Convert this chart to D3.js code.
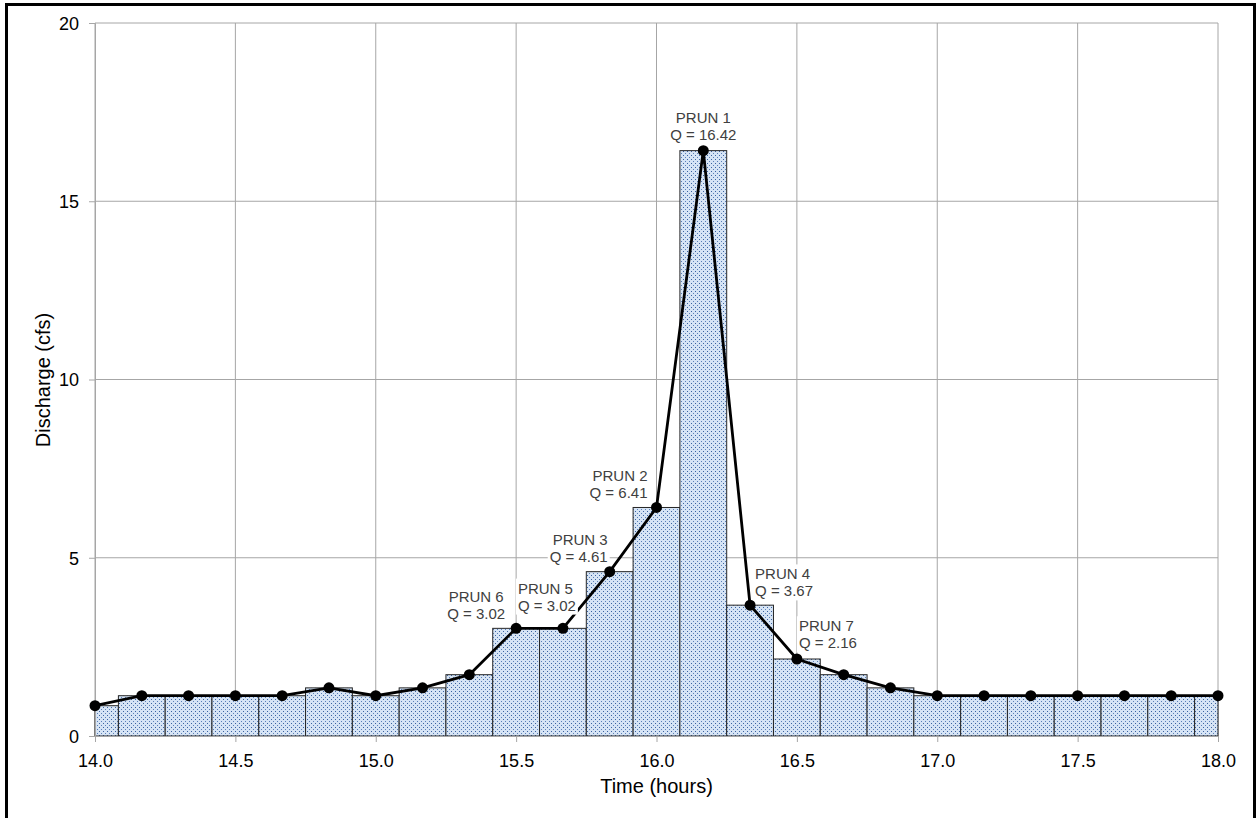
<!DOCTYPE html>
<html>
<head>
<meta charset="utf-8">
<script src="https://cdn.jsdelivr.net/npm/d3@7"></script>
<style>
  body { margin: 0; background: #fff; }
  svg { display: block; font-family: Arial, "Liberation Sans", sans-serif; }
</style>
</head>
<body>
<div class="graph"></div>
<script>
/*---------- DATA ----------*/

//time of each routed step (hours) and discharge (cfs)
const times = [14.0, 14.1667, 14.3333, 14.5, 14.6667, 14.8333, 15.0, 15.1667, 15.3333,
               15.5, 15.6667, 15.8333, 16.0, 16.1667, 16.3333, 16.5, 16.6667, 16.8333,
               17.0, 17.1667, 17.3333, 17.5, 17.6667, 17.8333, 18.0];
const discharge = [0.85, 1.13, 1.13, 1.13, 1.13, 1.35, 1.13, 1.35, 1.72,
                   3.02, 3.02, 4.61, 6.41, 16.42, 3.67, 2.16, 1.72, 1.35,
                   1.13, 1.13, 1.13, 1.13, 1.13, 1.13, 1.13];
const xTicks = [14.0, 14.5, 15.0, 15.5, 16.0, 16.5, 17.0, 17.5, 18.0];
const yTicks = [0, 5, 10, 15, 20];

//callout labels: index of the point, name, and where the text block sits
const callouts = [
    {i: 13, name: "PRUN 1", dx: 0,   dy: -16, anchor: "middle"},
    {i: 12, name: "PRUN 2", dx: -9,  dy: -15, anchor: "end"},
    {i: 11, name: "PRUN 3", dx: -2,  dy: -15, anchor: "end"},
    {i: 14, name: "PRUN 4", dx: 5,   dy: -14, anchor: "start"},
    {i: 10, name: "PRUN 5", dx: -45, dy: -23, anchor: "start"},
    {i: 9,  name: "PRUN 6", dx: -40, dy: -15, anchor: "middle"},
    {i: 15, name: "PRUN 7", dx: 2,   dy: -16, anchor: "start"}
];

/*---------- D3 STUFF ----------*/

const SIZE = {X: 1257, Y: 818};
const MARGIN = {TOP: 23, BOTTOM: 82, LEFT: 95, RIGHT: 39};
const DIM = {WIDTH: SIZE.X - MARGIN.LEFT - MARGIN.RIGHT,
             HEIGHT: SIZE.Y - MARGIN.TOP - MARGIN.BOTTOM};

const svg = d3.select(".graph").append("svg")
    .attr("width", SIZE.X)
    .attr("height", SIZE.Y);

//dotted fill like the excel pattern
const pat = svg.append("defs").append("pattern")
    .attr("id", "dots")
    .attr("patternUnits", "userSpaceOnUse")
    .attr("width", 4).attr("height", 4);
pat.append("rect").attr("width", 4).attr("height", 4).attr("fill", "#d6e4f5");
pat.append("rect").attr("x", 0).attr("y", 0).attr("width", 1).attr("height", 1).attr("fill", "#3a62a0");
pat.append("rect").attr("x", 2).attr("y", 2).attr("width", 1).attr("height", 1).attr("fill", "#5a7fb8");

//outer frame (bottom edge runs off the page)
svg.append("path")
    .attr("d", `M6.5,${SIZE.Y + 5} V4.5 H1254.5 V${SIZE.Y + 5}`)
    .attr("fill", "none")
    .attr("stroke", "#000")
    .attr("stroke-width", 3);

const graph = svg.append("g")
    .attr("transform", `translate(${MARGIN.LEFT}, ${MARGIN.TOP})`);

const x = d3.scaleLinear().domain([14, 18]).range([0, DIM.WIDTH]);
const y = d3.scaleLinear().domain([0, 20]).range([DIM.HEIGHT, 0]);

//grid lines
graph.append("g").selectAll("line")
    .data(xTicks)
    .enter().append("line")
        .attr("x1", d => x(d)).attr("x2", d => x(d))
        .attr("y1", 0).attr("y2", DIM.HEIGHT)
        .attr("stroke", "#a6a6a6").attr("stroke-width", 1);

graph.append("g").selectAll("line")
    .data(yTicks)
    .enter().append("line")
        .attr("x1", 0).attr("x2", DIM.WIDTH)
        .attr("y1", d => y(d)).attr("y2", d => y(d))
        .attr("stroke", "#a6a6a6").attr("stroke-width", 1);

//bars centred on each time step, clipped to the axis range
const halfStep = (times[1] - times[0]) / 2;
const data = times.map((t, i) => ({t: t, q: discharge[i]}));

graph.append("g").selectAll("rect")
    .data(data)
    .enter().append("rect")
        .attr("x", d => x(Math.max(14, d.t - halfStep)))
        .attr("width", d => x(Math.min(18, d.t + halfStep)) - x(Math.max(14, d.t - halfStep)))
        .attr("y", d => y(d.q))
        .attr("height", d => y(0) - y(d.q))
        .attr("fill", "url(#dots)")
        .attr("stroke", "#262626")
        .attr("stroke-width", 1);

//axes
const xAxis = graph.append("g")
    .attr("transform", `translate(0, ${DIM.HEIGHT})`)
    .call(d3.axisBottom(x).tickValues(xTicks).tickFormat(d3.format(".1f")).tickSize(6).tickPadding(12));

const yAxis = graph.append("g")
    .call(d3.axisLeft(y).tickValues(yTicks).tickSize(6).tickPadding(10));

[xAxis, yAxis].forEach(a => {
    a.select(".domain").attr("stroke", "#a6a6a6");
    a.selectAll(".tick line").attr("stroke", "#a6a6a6");
    a.selectAll(".tick text")
        .attr("fill", "#000")
        .style("font-size", "18px")
        .style("font-family", "Arial, 'Liberation Sans', sans-serif");
});
yAxis.selectAll(".tick text").attr("dy", "0.35em");

//line and markers
const line = d3.line().x(d => x(d.t)).y(d => y(d.q));

graph.append("path")
    .datum(data)
    .attr("d", line)
    .attr("fill", "none")
    .attr("stroke", "#000")
    .attr("stroke-width", 2.8);

graph.append("g").selectAll("circle")
    .data(data)
    .enter().append("circle")
        .attr("cx", d => x(d.t))
        .attr("cy", d => y(d.q))
        .attr("r", 5.5)
        .attr("fill", "#000");

//callout labels with white backing
const labels = graph.append("g").selectAll("g")
    .data(callouts)
    .enter().append("g")
        .attr("transform", d => `translate(${x(times[d.i]) + d.dx}, ${y(discharge[d.i]) + d.dy})`);

labels.each(function (d) {
    const g = d3.select(this);
    const t = g.append("text")
        .attr("text-anchor", d.anchor)
        .attr("fill", "#404040")
        .style("font-size", "15px");
    t.append("tspan").attr("x", 0).attr("y", -17).attr("dy", "0.35em").text(d.name);
    t.append("tspan").attr("x", 0).attr("y", 0).attr("dy", "0.35em").text("Q = " + discharge[d.i].toFixed(2));
    const bb = t.node().getBBox();
    g.insert("rect", "text")
        .attr("x", bb.x - 2).attr("y", bb.y - 1)
        .attr("width", bb.width + 4).attr("height", bb.height + 2)
        .attr("fill", "#fff");
});

//axis titles
svg.append("text")
    .attr("x", MARGIN.LEFT + DIM.WIDTH / 2)
    .attr("y", 786)
    .attr("dy", "0.35em")
    .attr("text-anchor", "middle")
    .style("font-size", "20px")
    .text("Time (hours)");

svg.append("text")
    .attr("transform", "translate(43, 380) rotate(-90)")
    .attr("dy", "0.35em")
    .attr("text-anchor", "middle")
    .style("font-size", "20px")
    .text("Discharge (cfs)");
</script>
</body>
</html>
